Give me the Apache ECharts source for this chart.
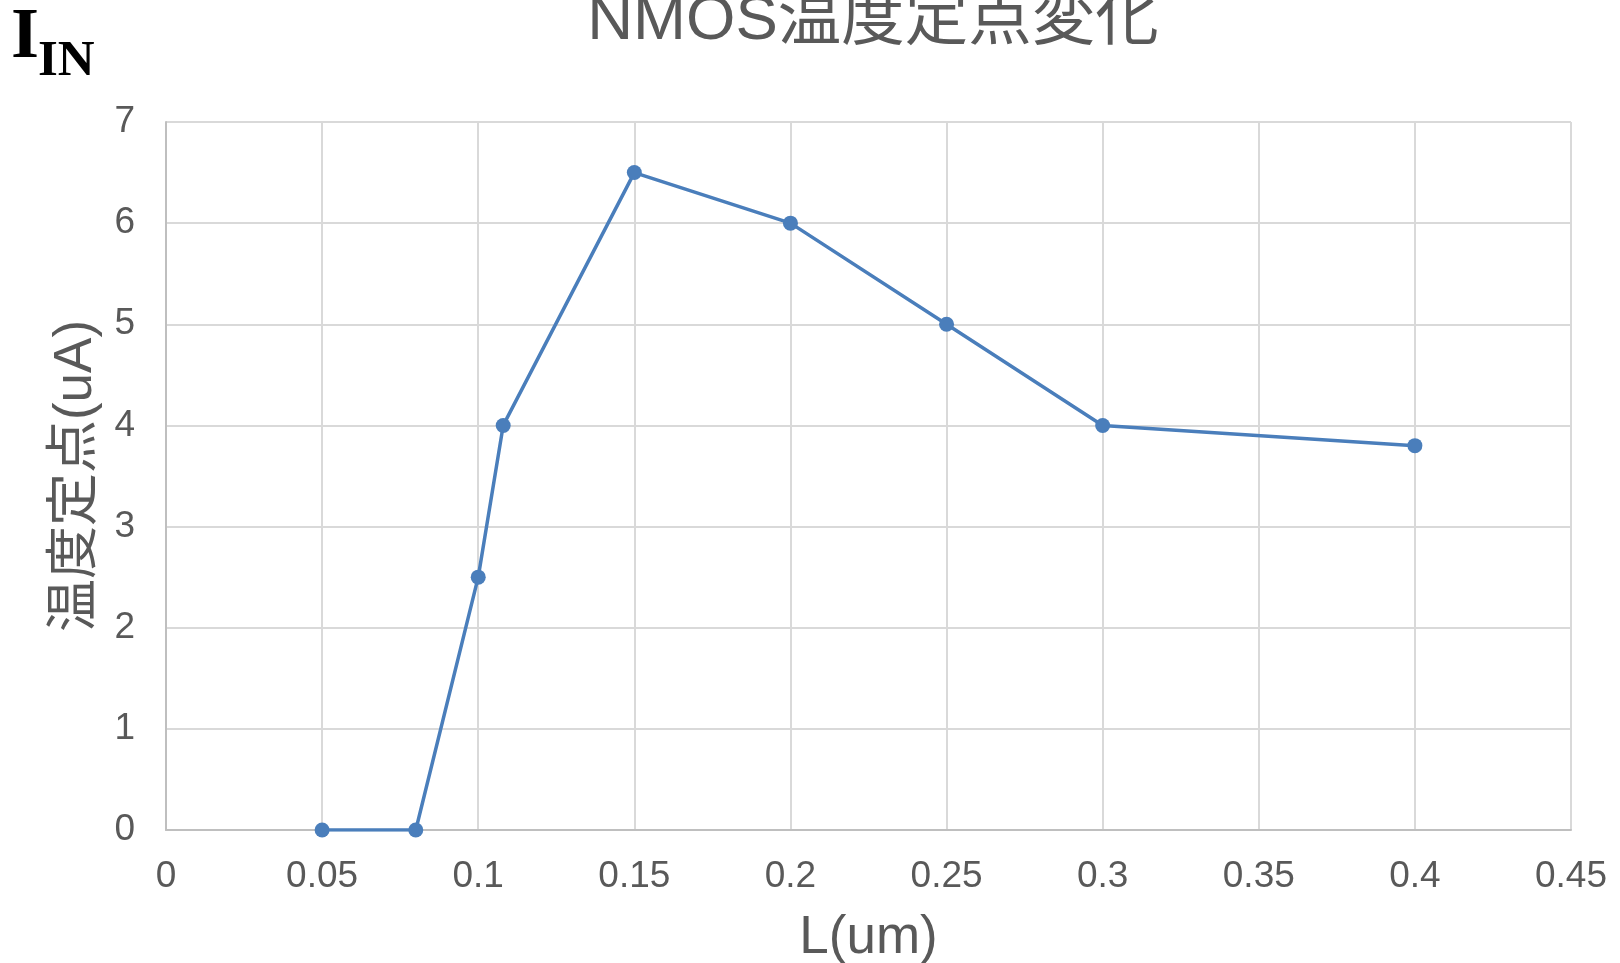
<!DOCTYPE html>
<html>
<head>
<meta charset="utf-8">
<title>NMOS温度定点変化</title>
<script src="https://cdn.jsdelivr.net/npm/echarts@6/dist/echarts.min.js"></script>
<style>
  html, body { margin: 0; padding: 0; background: #ffffff; }
  #chart { width: 1620px; height: 963px; }
</style>
</head>
<body>
<div id="chart"></div>
<script>
// Channel length L (um) and the resulting temperature-stable current (uA)
const lengthUm = [0.05, 0.08, 0.1, 0.108, 0.15, 0.2, 0.25, 0.3, 0.4];
const currentUA = [0, 0, 2.5, 4, 6.5, 6, 5, 4, 3.8];

const titleText = 'NMOS温度定点変化';
const xAxisName = 'L(um)';
const yAxisName = '温度定点(uA)';

const textFont = "'Liberation Sans', Arial, 'Noto Sans CJK JP', sans-serif";
const textColor = '#595959';
const lineColor = '#4a7ebb';

const points = lengthUm.map((x, i) => [x, currentUA[i]]);

const chart = echarts.init(document.getElementById('chart'), null, { renderer: 'canvas' });

chart.setOption({
  animation: false,
  backgroundColor: '#ffffff',
  title: {
    text: titleText,
    left: 868,
    textAlign: 'center',
    top: -15,
    textStyle: {
      fontFamily: textFont,
      fontSize: 63.5,
      fontWeight: 'normal',
      color: textColor
    }
  },
  graphic: [
    {
      type: 'text',
      left: 11,
      top: 2,
      style: {
        text: 'I',
        font: "bold 72px 'Liberation Serif', 'Times New Roman', serif",
        fill: '#000000'
      }
    },
    {
      type: 'text',
      left: 38,
      top: 36,
      style: {
        text: 'IN',
        font: "bold 51px 'Liberation Serif', 'Times New Roman', serif",
        fill: '#000000'
      }
    }
  ],
  grid: {
    left: 166,
    right: 49,
    top: 122,
    bottom: 133,
    containLabel: false,
    outerBoundsMode: 'none'
  },
  xAxis: {
    type: 'value',
    min: 0,
    max: 0.45,
    interval: 0.05,
    name: xAxisName,
    nameLocation: 'middle',
    nameGap: 82,
    nameTextStyle: {
      fontFamily: textFont,
      fontSize: 53,
      color: textColor
    },
    axisLine: { show: true, lineStyle: { color: '#bfbfbf', width: 2 } },
    axisTick: { show: false },
    axisLabel: {
      margin: 28,
      fontFamily: textFont,
      fontSize: 37,
      color: textColor,
      formatter: v => String(parseFloat(v.toFixed(2)))
    },
    splitLine: { show: true, lineStyle: { color: '#d9d9d9', width: 2 } }
  },
  yAxis: {
    type: 'value',
    min: 0,
    max: 7,
    interval: 1,
    name: yAxisName,
    nameLocation: 'middle',
    nameGap: 63,
    nameRotate: 90,
    nameTextStyle: {
      fontFamily: textFont,
      fontSize: 53,
      color: textColor
    },
    axisLine: { show: true, lineStyle: { color: '#bfbfbf', width: 2 } },
    axisTick: { show: false },
    axisLabel: {
      margin: 31,
      fontFamily: textFont,
      fontSize: 37,
      color: textColor
    },
    splitLine: { show: true, lineStyle: { color: '#d9d9d9', width: 2 } }
  },
  series: [
    {
      type: 'line',
      data: points,
      symbol: 'circle',
      symbolSize: 15,
      showAllSymbol: true,
      lineStyle: { color: lineColor, width: 3.5 },
      itemStyle: { color: lineColor }
    }
  ]
});
</script>
</body>
</html>
